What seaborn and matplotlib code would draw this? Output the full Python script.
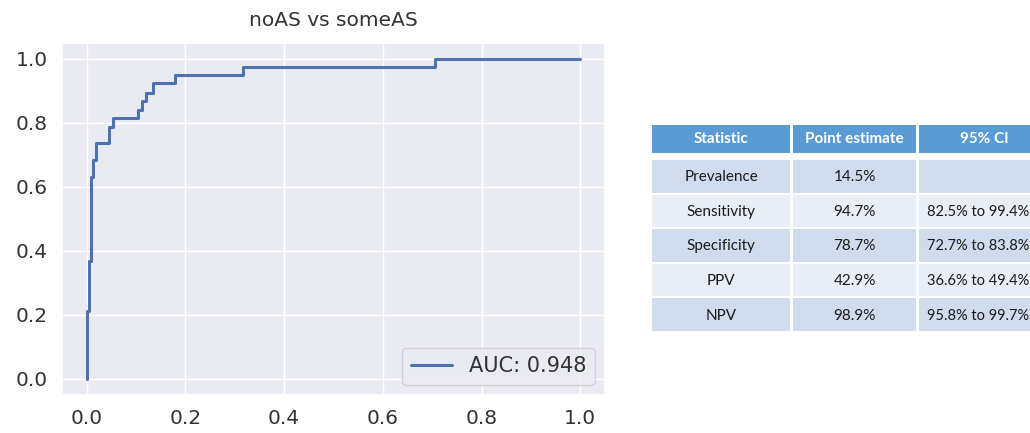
import numpy as np
import pandas as pd
import matplotlib
matplotlib.use("Agg")
import matplotlib.pyplot as plt
import seaborn as sns
from matplotlib.patches import Rectangle

# ------------------------------
# ROC өгөгдөл (зурагнаас уншсан)
# ------------------------------
fpr = [0.0, 0.0, 0.004, 0.004, 0.009, 0.009, 0.013, 0.013, 0.018, 0.018,
       0.045, 0.045, 0.054, 0.054, 0.103, 0.103, 0.112, 0.112, 0.121, 0.121,
       0.134, 0.134, 0.179, 0.179, 0.317, 0.317, 0.705, 0.705, 1.0]
tpr = [0.0, 0.211, 0.211, 0.368, 0.368, 0.632, 0.632, 0.684, 0.684, 0.737,
       0.737, 0.789, 0.789, 0.816, 0.816, 0.842, 0.842, 0.868, 0.868, 0.895,
       0.895, 0.924, 0.924, 0.950, 0.950, 0.976, 0.976, 1.0, 1.0]
auc_label = "AUC: 0.948"
title = "noAS vs someAS"

# ------------------------------
# Хүснэгтийн өгөгдөл
# ------------------------------
headers = ["Statistic", "Point estimate", "95% CI"]
statistics = ["Prevalence", "Sensitivity", "Specificity", "PPV", "NPV"]
point_estimates = ["14.5%", "94.7%", "78.7%", "42.9%", "98.9%"]
conf_intervals = ["", "82.5% to 99.4%", "72.7% to 83.8%", "36.6% to 49.4%", "95.8% to 99.7%"]

sns.set_theme(style="darkgrid")

W, H = 1030, 433
fig = plt.figure(figsize=(W / 100, H / 100), dpi=100)

# ------------------------------
# ROC муруй
# ------------------------------
ax = fig.add_axes([62 / W, 1 - 395 / H, (605 - 62) / W, (395 - 43) / H])
roc = pd.DataFrame({"fpr": fpr, "tpr": tpr})
sns.lineplot(data=roc, x="fpr", y="tpr", sort=False, estimator=None,
             color="#4C72B0", linewidth=2.2, label=auc_label, ax=ax)
ax.set_xlim(-0.05, 1.05)
ax.set_ylim(-0.05, 1.05)
ax.set_xticks(np.arange(0, 1.01, 0.2))
ax.set_yticks(np.arange(0, 1.01, 0.2))
ax.set_xlabel("")
ax.set_ylabel("")
ax.tick_params(labelsize=14.5, colors="#333333", length=0, pad=10)
ax.set_title(title, fontsize=14.5, color="#333333", pad=12)
ax.legend(loc="lower right", fontsize=15, frameon=True,
          labelcolor="#333333")

# ------------------------------
# Хүснэгт (пикселийн координатаар)
# ------------------------------
tax = fig.add_axes([0, 0, 1, 1])
tax.set_xlim(0, W)
tax.set_ylim(H, 0)
tax.axis("off")

col_left = [652, 793, 919]
col_width = [138, 123, 130]
header_top, header_h = 125, 28
body_top, row_pitch, row_h = 160, 34.6, 32.5
header_color = "#5B9BD5"
row_colors = ["#D0DBEE", "#E9EDF6"]
font = ["Lato", "DejaVu Sans"]

for j, name in enumerate(headers):
    tax.add_patch(Rectangle((col_left[j], header_top), col_width[j], header_h,
                            facecolor=header_color, edgecolor="none", clip_on=True))
    tax.text(col_left[j] + col_width[j] / 2, header_top + header_h / 2, name,
             ha="center", va="center", color="white", fontsize=11,
             fontweight="bold", family=font, clip_on=True)

columns = [statistics, point_estimates, conf_intervals]
for i in range(len(statistics)):
    top = body_top + i * row_pitch
    for j, col in enumerate(columns):
        tax.add_patch(Rectangle((col_left[j], top), col_width[j], row_h,
                                facecolor=row_colors[i % 2], edgecolor="none", clip_on=True))
        # сүүлийн баганын текстийг хүрээнд багтаахаар бага зэрэг зүүн тийш
        cx = col_left[j] + col_width[j] / 2 - (6 if j == 2 else 0)
        tax.text(cx, top + row_h / 2 + 1,
                 col[i], ha="center", va="center", color="#1a1a1a",
                 fontsize=10.5 if j == 2 else 11, family=font, clip_on=True)

fig.savefig("out.png", dpi=100)
